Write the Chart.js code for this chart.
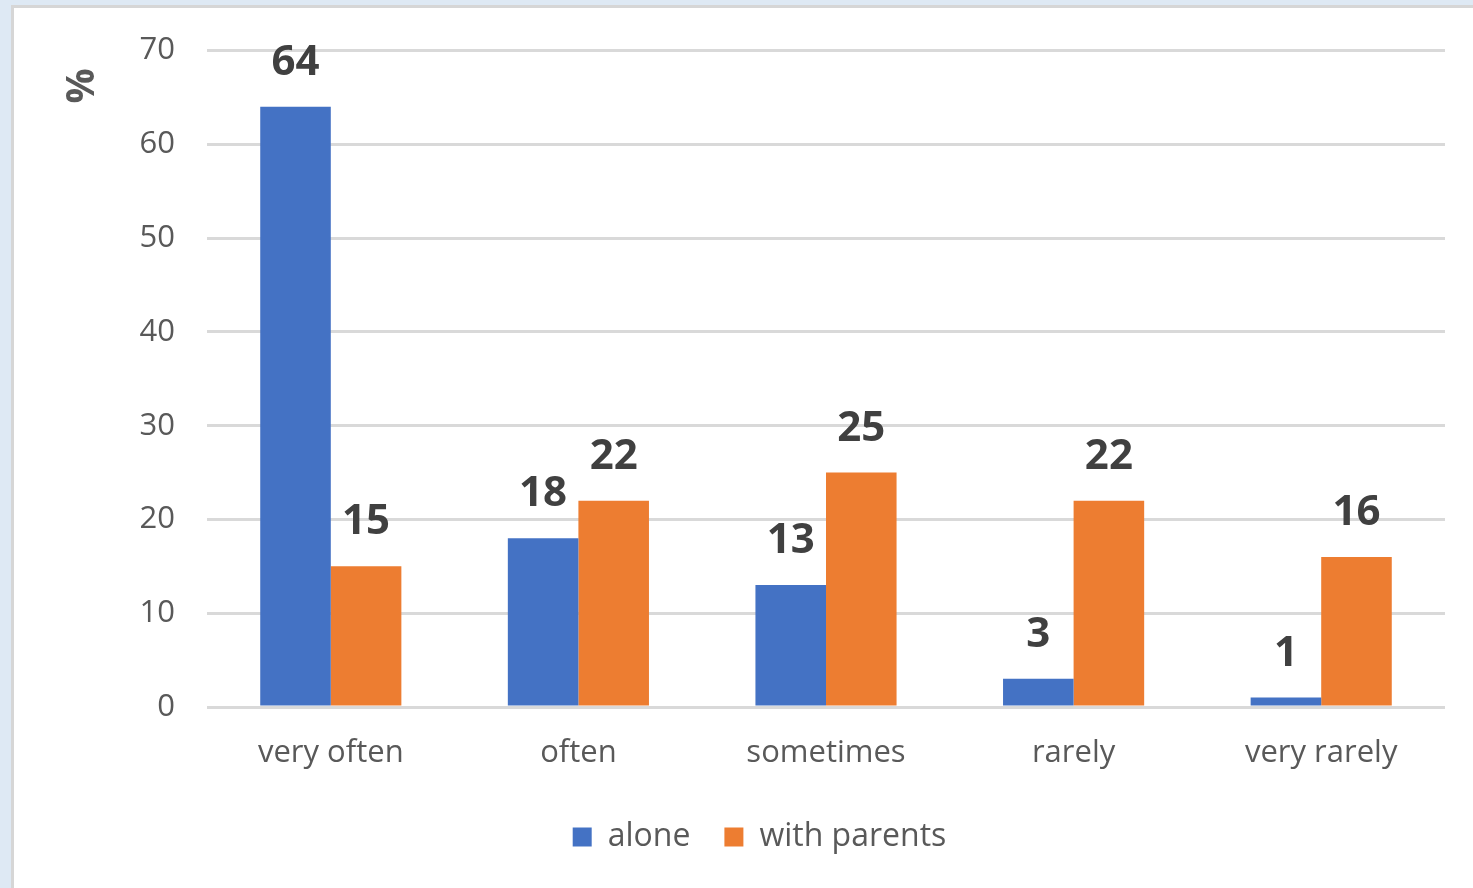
<!DOCTYPE html>
<html>
<head>
<meta charset="utf-8">
<script src="https://cdn.jsdelivr.net/npm/chart.js@4"></script>
<style>
  html, body { margin: 0; padding: 0; background: #dee9f4; overflow: hidden; }
  #panel {
    position: absolute; left: 11px; top: 5px; width: 1480px; height: 900px;
    background: #ffffff; border: 3px solid #d6d6d6;
  }
  #wrap { position: absolute; left: 0; top: 0; width: 1473px; height: 888px; }
</style>
</head>
<body>
<div id="panel"></div>
<div id="wrap"><canvas id="chart" width="1473" height="888"></canvas></div>
<script>
var categories = ["very often", "often", "sometimes", "rarely", "very rarely"];
var alone = [64, 18, 13, 3, 1];
var withParents = [15, 22, 25, 22, 16];
var seriesNames = ["alone", "with parents"];

// values above bars and the rotated % on the y axis
var labelPlugin = {
  id: "barLabels",
  afterLayout: function (chart) {
    // legend sits a bit right of the plot centre
    chart.legend.left += 37;
    chart.legend.right += 37;
  },
  afterDatasetsDraw: function (chart) {
    var ctx = chart.ctx;
    ctx.save();
    ctx.fillStyle = "#404040";
    ctx.font = "bold 42px 'Open Sans'";
    ctx.textAlign = "center";
    ctx.textBaseline = "alphabetic";
    chart.data.datasets.forEach(function (ds, i) {
      chart.getDatasetMeta(i).data.forEach(function (bar, j) {
        ctx.fillText(ds.data[j], bar.x, bar.y - 32);
      });
    });
    ctx.translate(83, 86);
    ctx.rotate(-Math.PI / 2);
    ctx.fillStyle = "#595959";
    ctx.font = "bold 39px 'Open Sans'";
    ctx.textBaseline = "middle";
    ctx.fillText("%", 0, 0);
    ctx.restore();
  }
};

new Chart(document.getElementById("chart"), {
  type: "bar",
  data: {
    labels: categories,
    datasets: [
      { label: seriesNames[0], data: alone, backgroundColor: "#4472c4" },
      { label: seriesNames[1], data: withParents, backgroundColor: "#ed7d31" }
    ]
  },
  options: {
    responsive: false,
    animation: false,
    layout: { padding: { left: 0, top: 50, right: 28, bottom: 25 } },
    datasets: { bar: { categoryPercentage: 0.57, barPercentage: 1 } },
    plugins: {
      tooltip: { enabled: false },
      legend: {
        position: "bottom",
        labels: {
          color: "#595959",
          font: { family: "'Open Sans'", size: 32 },
          boxWidth: 19,
          boxHeight: 19,
          padding: 34
        }
      }
    },
    scales: {
      x: {
        grid: { display: false, drawTicks: false },
        border: { display: false },
        ticks: {
          color: "#595959",
          font: { family: "'Open Sans'", size: 31 },
          padding: 28
        },
        afterFit: function (scale) { scale.height = 80; }
      },
      y: {
        min: 0,
        max: 70,
        ticks: {
          stepSize: 10,
          color: "#595959",
          font: { family: "'Open Sans'", size: 31 },
          padding: 32
        },
        grid: { color: "#d9d9d9", lineWidth: 3, drawTicks: false },
        border: { display: false },
        afterFit: function (scale) { scale.width = 207; }
      }
    }
  },
  plugins: [labelPlugin]
});
</script>
</body>
</html>
